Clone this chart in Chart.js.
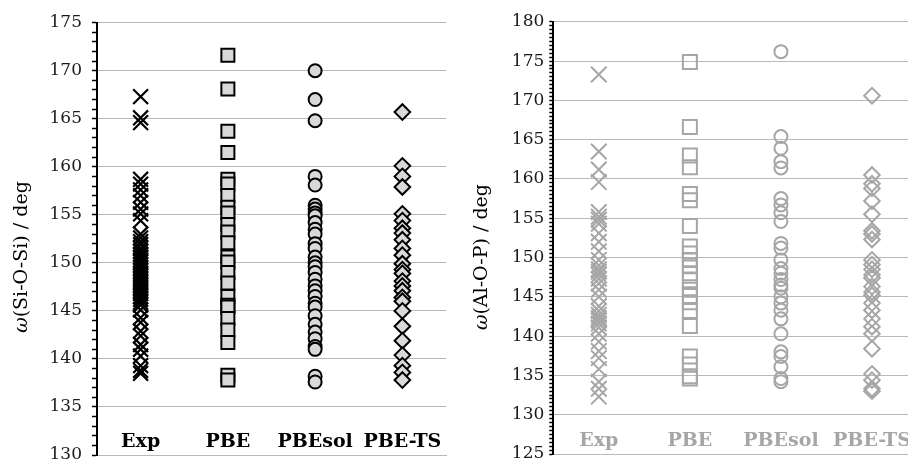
<!DOCTYPE html>
<html><head><meta charset="utf-8">
<script src="https://cdn.jsdelivr.net/npm/chart.js@4/dist/chart.umd.min.js"></script>
<style>
html,body{margin:0;padding:0;background:#fff;overflow:hidden;width:908px;height:461px;position:relative;}
#c1{position:absolute;left:0;top:0;}
#c2{position:absolute;left:455px;top:0;}
</style></head><body>
<canvas id="c1" width="455" height="461"></canvas>
<canvas id="c2" width="470" height="461"></canvas>
<script>
// ---------- data ----------
const categories = ['Exp', 'PBE', 'PBEsol', 'PBE-TS'];

// left panel: Si-O-Si angles (deg)
const siExp = [167.3, 165.1, 164.6, 158.7, 158.2, 157.6, 157.0, 156.3, 155.6, 155.1, 154.4, 153.0, 152.6, 152.2, 151.9, 151.5,
  151.2, 150.9, 150.6, 150.3, 150.1, 149.8, 149.5, 149.2, 148.9, 148.6, 148.3, 148.0, 147.7, 147.4, 147.1, 146.8, 146.5,
  146.2, 145.9, 145.6, 145.1, 144.3, 143.8, 142.9, 142.4, 141.5, 141.0, 140.3, 139.3, 138.8, 138.5];
const siPBE = [171.6, 168.1, 163.7, 161.5, 158.7, 158.2, 157.0, 155.8, 155.2, 154.0, 153.2, 152.1, 150.6, 150.1, 149.0,
  147.9, 146.5, 145.6, 145.4, 144.2, 143.0, 141.7, 138.3, 137.8];
const siPBEsol = [170.0, 167.0, 164.8, 159.0, 158.1, 156.0, 155.6, 155.2, 154.9, 154.2, 153.5, 153.0, 152.0, 151.5, 150.6,
  150.0, 149.6, 149.0, 148.3, 147.6, 147.1, 146.5, 145.8, 145.4, 144.5, 143.6, 142.8, 142.1, 141.3, 141.0, 138.2, 137.6];
const siPBETS = [165.7, 160.1, 159.0, 157.9, 155.1, 154.4, 153.6, 153.1, 152.4, 151.5, 150.8, 149.9, 149.3, 148.9, 148.1,
  147.6, 147.1, 146.4, 146.0, 145.0, 143.4, 141.9, 140.4, 139.3, 138.6, 137.8];

// right panel: Al-O-P angles (deg)
const alExp = [173.3, 163.5, 161.2, 159.6, 155.8, 155.2, 154.8, 154.3, 153.1, 152.0, 150.8, 149.7, 149.0, 148.5, 148.2,
  147.8, 147.3, 146.7, 145.9, 145.0, 143.8, 143.2, 142.7, 142.3, 142.0, 141.6, 141.1, 140.3, 139.3, 138.1, 137.2, 135.8,
  134.2, 133.3, 132.3];
const alPBE = [174.9, 166.6, 163.0, 161.5, 158.1, 157.3, 154.0, 151.4, 150.5, 149.7, 149.0, 148.0, 147.1, 145.9, 145.1,
  144.3, 143.2, 141.3, 137.4, 136.4, 134.9, 134.6];
const alPBEsol = [176.2, 165.4, 163.9, 162.2, 161.4, 157.5, 156.7, 155.7, 154.6, 151.8, 151.2, 149.7, 148.6, 148.0, 147.2,
  146.5, 146.1, 145.0, 144.2, 143.3, 142.2, 140.3, 138.0, 137.4, 136.1, 134.6, 134.2];
const alPBETS = [170.6, 160.5, 159.4, 158.8, 157.2, 155.5, 153.4, 153.0, 152.3, 149.7, 149.1, 148.5, 147.8, 147.4, 146.3,
  145.6, 145.2, 144.2, 143.3, 142.2, 141.2, 140.3, 138.4, 135.2, 134.4, 133.3, 133.0];

// tick labels
const siTickLabels = [130, 135, 140, 145, 150, 155, 160, 165, 170, 175];
const alTickLabels = [125, 130, 135, 140, 145, 150, 155, 160, 165, 170, 175, 180];
const siMinorStep = 1;
const alMinorStep = 0.5;

// ---------- helpers ----------
const GRID = '#b9b9b9';
const FONT = '"DejaVu Serif", "Liberation Serif", serif';

const titlePlugin = {
  id: 'ytitle',
  afterDraw(chart, args, o) {
    const ctx = chart.ctx;
    ctx.save();
    ctx.translate(o.x, o.y);
    ctx.rotate(-Math.PI / 2);
    ctx.fillStyle = '#000';
    ctx.textBaseline = 'middle';
    ctx.textAlign = 'left';
    const f1 = 'italic ' + o.size + 'px ' + FONT, f2 = o.size + 'px ' + FONT;
    ctx.font = f1; const w1 = ctx.measureText(o.sym).width;
    ctx.font = f2; const w2 = ctx.measureText(o.text).width;
    const x0 = -(w1 + w2) / 2;
    ctx.font = f1; ctx.fillText(o.sym, x0, 0);
    ctx.font = f2; ctx.fillText(o.text, x0 + w1, 0);
    ctx.restore();
  }
};

function ds(values, idx, style, radius, fill, stroke, bw) {
  return {
    data: values.map(v => ({ x: idx + 1, y: v })),
    pointStyle: style,
    pointRadius: radius,
    pointHoverRadius: radius,
    pointBackgroundColor: fill,
    pointBorderColor: stroke,
    pointBorderWidth: bw,
    pointHoverBorderWidth: bw,
    showLine: false
  };
}

function makeChart(id, cfg) {
  const minor = [];
  for (let v = cfg.min; v <= cfg.max + 1e-9; v += cfg.step) minor.push(Math.round(v * 100) / 100);
  return new Chart(document.getElementById(id), {
    type: 'scatter',
    data: { datasets: cfg.datasets },
    plugins: [titlePlugin],
    options: {
      responsive: false,
      animation: false,
      devicePixelRatio: 1,
      layout: { padding: cfg.padding, autoPadding: false },
      events: [],
      plugins: {
        legend: { display: false },
        tooltip: { enabled: false },
        ytitle: cfg.title
      },
      scales: {
        x: {
          type: 'linear',
          min: 0.5, max: 4.5,
          afterBuildTicks: s => { s.ticks = categories.map((c, i) => ({ value: i + 1 })); },
          afterFit: s => { s.height = cfg.xHeight; s.paddingLeft = 0; s.paddingRight = 0; },
          grid: { display: false },
          border: { display: true, color: GRID, width: 1 },
          ticks: {
            autoSkip: false, maxRotation: 0, minRotation: 0,
            mirror: true,
            padding: 2,
            color: cfg.catColor,
            font: { family: FONT, size: 19, weight: 'bold' },
            callback: v => categories[Math.round(v) - 1] || ''
          }
        },
        y: {
          type: 'linear',
          min: cfg.min, max: cfg.max,
          afterBuildTicks: s => { s.ticks = minor.map(v => ({ value: v })); },
          afterFit: s => { s.width = cfg.yWidth; s.paddingTop = 0; s.paddingBottom = 0; },
          grid: {
            color: c => (c.tick && cfg.labels.includes(c.tick.value)) ? GRID : 'rgba(0,0,0,0)',
            lineWidth: 1,
            tickColor: '#000',
            tickLength: cfg.tickLen,
            tickWidth: 1.5
          },
          border: { display: true, color: '#000', width: 2 },
          ticks: {
            autoSkip: false,
            padding: cfg.tickPad,
            color: '#1a1a1a',
            font: { family: FONT, size: 17 },
            callback: v => cfg.labels.includes(v) ? String(v) : ''
          }
        }
      }
    }
  });
}

makeChart('c1', {
  min: 130, max: 175, step: siMinorStep, labels: siTickLabels,
  padding: { top: 22.7, right: 9, bottom: 0, left: 0 },
  yWidth: 97, xHeight: 6, tickLen: 5, tickPad: 10,
  catColor: '#000',
  title: { x: 22.5, y: 257, size: 19, sym: 'ω', text: '(Si-O-Si) / deg' },
  datasets: [
    ds(siExp, 0, 'crossRot', 10.5, '#000', '#000', 2.2),
    ds(siPBE, 1, 'rect', 9.2, '#d9d9d9', '#000', 2),
    ds(siPBEsol, 2, 'circle', 6.5, '#d9d9d9', '#000', 2),
    ds(siPBETS, 3, 'rectRot', 7.8, '#d9d9d9', '#000', 2)
  ]
});

makeChart('c2', {
  min: 125, max: 180, step: alMinorStep, labels: alTickLabels,
  padding: { top: 21.8, right: 7.5, bottom: 0, left: 0 },
  yWidth: 98.3, xHeight: 7, tickLen: 4, tickPad: 5,
  catColor: '#a6a6a6',
  title: { x: 27.5, y: 257, size: 19, sym: 'ω', text: '(Al-O-P) / deg' },
  datasets: [
    ds(alExp, 0, 'crossRot', 11, '#a6a6a6', '#a6a6a6', 2),
    ds(alPBE, 1, 'rect', 9.9, 'rgba(0,0,0,0)', '#a6a6a6', 2),
    ds(alPBEsol, 2, 'circle', 6.5, 'rgba(0,0,0,0)', '#a6a6a6', 2),
    ds(alPBETS, 3, 'rectRot', 7.8, 'rgba(0,0,0,0)', '#a6a6a6', 2)
  ]
});
</script>
</body></html>
